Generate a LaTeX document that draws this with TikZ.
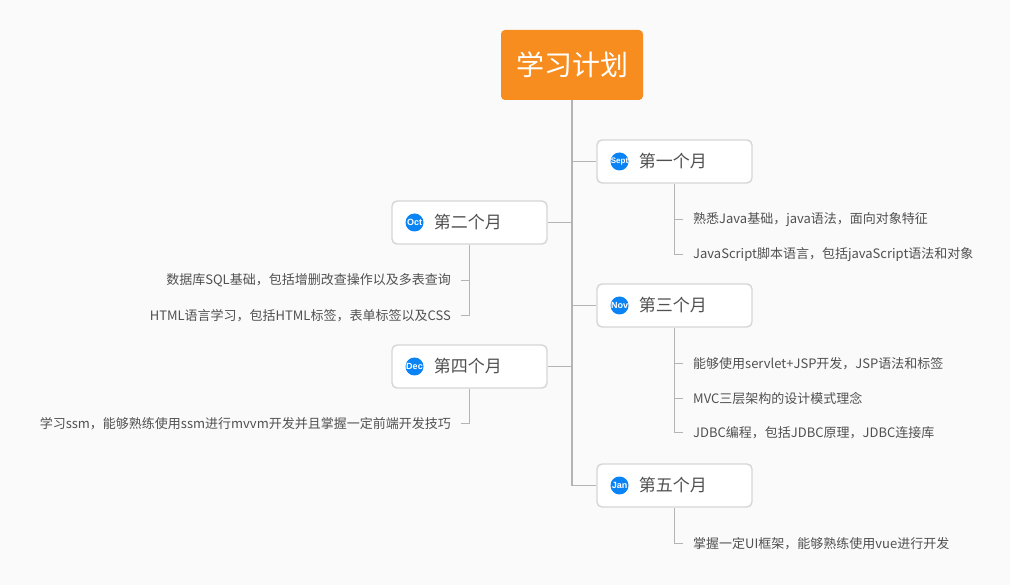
\documentclass[tikz,border=0pt]{standalone}
\usepackage{fontspec}
\setmainfont{Noto Sans CJK SC}
\newfontfamily\iconfont{Liberation Sans}
\usetikzlibrary{positioning}
\definecolor{bgcol}{HTML}{FAFAFA}
\definecolor{rootcol}{HTML}{F78D1E}
\definecolor{boxline}{HTML}{D6D6D6}
\definecolor{linkcol}{HTML}{B4B4B4}
\definecolor{textcol}{HTML}{505050}
\definecolor{iconcol}{HTML}{0A84F5}
\newcommand{\icontag}[1]{\makebox[0pt]{#1}}
\tikzset{
  rootbox/.style={fill=rootcol, rounded corners=4pt, minimum width=142pt, minimum height=70pt, inner sep=0pt, text=white, font=\fontsize{28}{30}\selectfont},
  monthbox/.style={draw=boxline, line width=1.4pt, fill=white, rounded corners=5pt, minimum width=155pt, minimum height=43pt, inner sep=0pt},
  icon/.style={circle, fill=iconcol, minimum size=18pt, inner sep=0pt, text=white, font=\iconfont\bfseries\fontsize{9}{9}\selectfont},
  monthtext/.style={inner sep=0pt, text=textcol, font=\fontsize{17}{18}\selectfont},
  leaftext/.style={inner xsep=10pt, inner ysep=0pt, text=textcol, font=\fontsize{13}{14}\selectfont},
  trunk/.style={draw=linkcol, line width=1.2pt},
}
\begin{document}
\begin{tikzpicture}[x=1pt, y=-1pt]
  \fill[bgcol] (0,0) rectangle (1010,585);
  \useasboundingbox (0,0) rectangle (1010,585);
  \node[rootbox] (root) at (572,65) {学习计划};
  % months
  \node[monthbox] (sept) at (674.5,161.5) {};
  \node[monthbox] (oct) at (469.5,222.5) {};
  \node[monthbox] (nov) at (674.5,305.5) {};
  \node[monthbox] (dec) at (469.5,366.5) {};
  \node[monthbox] (jan) at (674.5,485.5) {};
  \node[icon, right=14pt of sept.west, font=\iconfont\bfseries\fontsize{8}{8}\selectfont] (septicon) {\icontag{Sept}};
  \node[icon, right=14pt of oct.west] (octicon) {\icontag{Oct}};
  \node[icon, right=14pt of nov.west] (novicon) {\icontag{Nov}};
  \node[icon, right=14pt of dec.west] (decicon) {\icontag{Dec}};
  \node[icon, right=14pt of jan.west] (janicon) {\icontag{Jan}};
  \node[monthtext, right=10pt of septicon] (septtext) {第一个月};
  \node[monthtext, right=10pt of octicon] (octtext) {第二个月};
  \node[monthtext, right=10pt of novicon] (novtext) {第三个月};
  \node[monthtext, right=10pt of decicon] (dectext) {第四个月};
  \node[monthtext, right=10pt of janicon] (jantext) {第五个月};
  % leaves
  \node[leaftext, anchor=west] (s1) at (683,219.6) {熟悉Java基础，java语法，面向对象特征};
  \node[leaftext, anchor=west] (s2) at (683,254.6) {JavaScript脚本语言，包括javaScript语法和对象};
  \node[leaftext, anchor=east] (o1) at (461,280.6) {数据库SQL基础，包括增删改查操作以及多表查询};
  \node[leaftext, anchor=east] (o2) at (461,315.6) {HTML语言学习，包括HTML标签，表单标签以及CSS};
  \node[leaftext, anchor=west] (n1) at (683,363.6) {能够使用servlet+JSP开发，JSP语法和标签};
  \node[leaftext, anchor=west] (n2) at (683,398.6) {MVC三层架构的设计模式理念};
  \node[leaftext, anchor=west] (n3) at (683,432.6) {JDBC编程，包括JDBC原理，JDBC连接库};
  \node[leaftext, anchor=east] (d1) at (461,423.6) {学习ssm，能够熟练使用ssm进行mvvm开发并且掌握一定前端开发技巧};
  \node[leaftext, anchor=west] (j1) at (683,543.6) {掌握一定UI框架，能够熟练使用vue进行开发};
  % links
  \draw[trunk] (root.south) |- (jan.west);
  \draw[trunk] (root.south |- sept.west) -- (sept.west);
  \draw[trunk] (root.south |- oct.east) -- (oct.east);
  \draw[trunk] (root.south |- nov.west) -- (nov.west);
  \draw[trunk] (root.south |- dec.east) -- (dec.east);
  \draw[trunk] (sept.south) |- (s2.west);
  \draw[trunk] (sept.south |- s1.west) -- (s1.west);
  \draw[trunk] (oct.south) |- (o2.east);
  \draw[trunk] (oct.south |- o1.east) -- (o1.east);
  \draw[trunk] (nov.south) |- (n3.west);
  \draw[trunk] (nov.south |- n1.west) -- (n1.west);
  \draw[trunk] (nov.south |- n2.west) -- (n2.west);
  \draw[trunk] (dec.south) |- (d1.east);
  \draw[trunk] (jan.south) |- (j1.west);
\end{tikzpicture}
\end{document}
